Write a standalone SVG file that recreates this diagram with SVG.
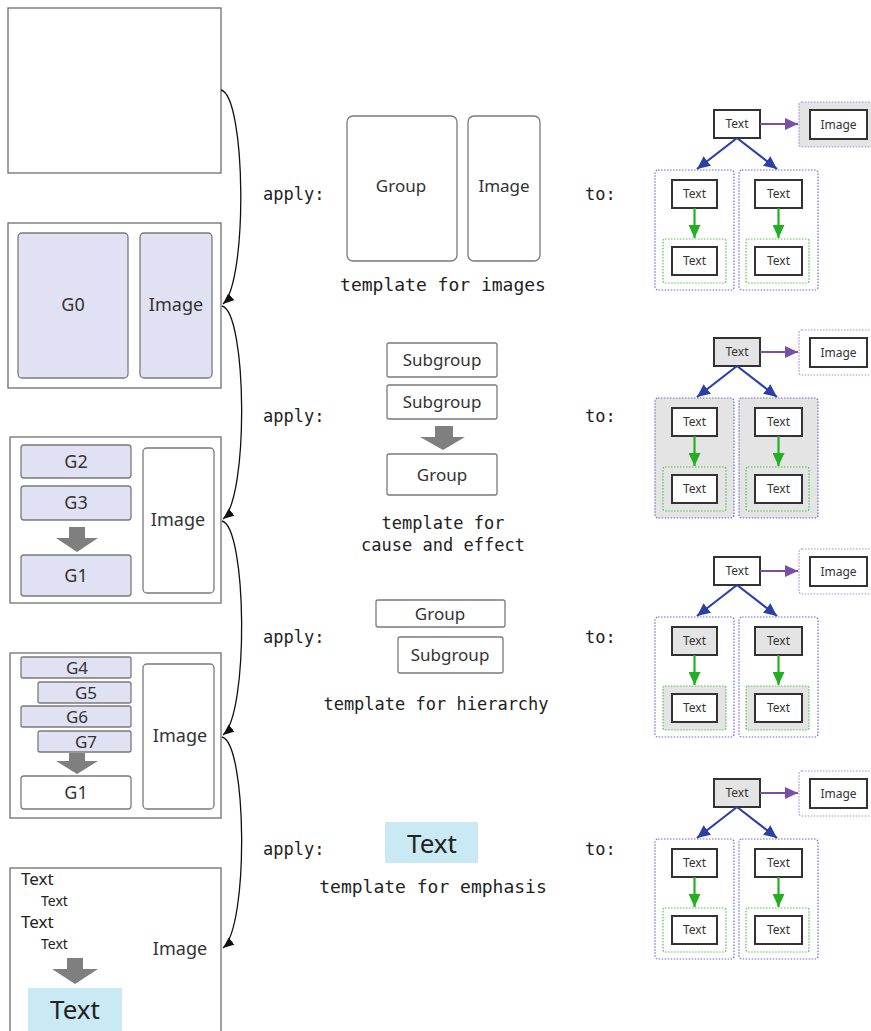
<svg xmlns="http://www.w3.org/2000/svg" width="871" height="1031" viewBox="0 0 871 1031">
<defs>
<style>
.panel{fill:#fff;stroke:#6e6e6e;stroke-width:1.3}
.lav{fill:#e1e1f4;stroke:#7a7a7a;stroke-width:1.3}
.wbox{fill:#fff;stroke:#7a7a7a;stroke-width:1.3}
.lbl{font-family:"Noto Sans",sans-serif;font-size:17px;fill:#333;text-anchor:middle}
.lbl18{font-family:"Noto Sans",sans-serif;font-size:18px;fill:#333;text-anchor:middle}
.mono{font-family:"DejaVu Sans Mono",monospace;font-size:17px;fill:#222}
.monoc{font-family:"DejaVu Sans Mono",monospace;font-size:17px;fill:#222;text-anchor:middle}
.monoc18{font-family:"DejaVu Sans Mono",monospace;font-size:18px;fill:#222;text-anchor:middle}
.garrow{fill:#7f7f7f}
.gn{fill:#fff;stroke:#333;stroke-width:2}
.gng{fill:#e4e4e4;stroke:#333;stroke-width:2}
.gt{font-family:"Noto Sans",sans-serif;font-size:12px;fill:#333;text-anchor:middle}
.cb{fill:none;stroke:#6a6ad0;stroke-width:1.2;stroke-dasharray:1.5 1.5}
.cbg{fill:#e4e4e4;stroke:#6a6ad0;stroke-width:1.2;stroke-dasharray:1.5 1.5}
.cg{fill:none;stroke:#48c848;stroke-width:1.2;stroke-dasharray:1.5 1.5}
.cgg{fill:#e4e4e4;stroke:#48c848;stroke-width:1.2;stroke-dasharray:1.5 1.5}
.cp{fill:none;stroke:#a68ad8;stroke-width:1.2;stroke-dasharray:1.5 1.5}
.cpg{fill:#e4e4e4;stroke:#a68ad8;stroke-width:1.2;stroke-dasharray:1.5 1.5}
.eb{stroke:#2b3fa8;stroke-width:2.2;fill:none}
.eg{stroke:#22b022;stroke-width:2.2;fill:none}
.ep{stroke:#7b4fa8;stroke-width:2.2;fill:none}
.curve{stroke:#111;stroke-width:1.3;fill:none}
.t17{font-family:"Noto Sans",sans-serif;font-size:17px;fill:#222}
.t14{font-family:"Noto Sans",sans-serif;font-size:14px;fill:#222}
.big{font-family:"Noto Sans",sans-serif;font-size:26px;fill:#222;text-anchor:middle}
</style>
<marker id="mb" markerUnits="userSpaceOnUse" markerWidth="14" markerHeight="12" refX="13" refY="6" orient="auto"><path d="M0,0 L13,6 L0,12 z" fill="#2b3fa8"/></marker>
<marker id="mg" markerUnits="userSpaceOnUse" markerWidth="14" markerHeight="12" refX="13" refY="6" orient="auto"><path d="M0,0 L13,6 L0,12 z" fill="#22b022"/></marker>
<marker id="mp" markerUnits="userSpaceOnUse" markerWidth="14" markerHeight="12" refX="13" refY="6" orient="auto"><path d="M0,0 L13,6 L0,12 z" fill="#7b4fa8"/></marker>
<marker id="mk" markerUnits="userSpaceOnUse" markerWidth="12" markerHeight="10" refX="11" refY="4.5" orient="auto"><path d="M0,0 L11,4.5 L0,9 z" fill="#111"/></marker>
</defs>
<rect width="871" height="1031" fill="#fff"/>

<!-- Left panels -->
<g id="panel1"><rect class="panel" x="8" y="8" width="213" height="165"/></g>
<g id="panel2">
<rect class="panel" x="8" y="223" width="213" height="165"/>
<rect class="lav" x="18" y="233" width="110" height="145" rx="4"/>
<rect class="lav" x="140" y="233" width="72" height="145" rx="4"/>
<text class="lbl18" x="73" y="311">G0</text>
<text class="lbl18" x="176" y="311">Image</text>
</g>
<g id="panel3">
<rect class="panel" x="10" y="437" width="211" height="166"/>
<rect class="lav" x="21" y="445" width="110" height="33" rx="3"/>
<rect class="lav" x="21" y="486" width="110" height="34" rx="3"/>
<rect class="lav" x="21" y="555" width="110" height="41" rx="3"/>
<rect class="wbox" x="143" y="448" width="71" height="145" rx="4"/>
<polygon class="garrow" points="69,527 85,527 85,538 98,538 77,552 56,538 69,538"/>
<text class="lbl18" x="76" y="468">G2</text>
<text class="lbl18" x="76" y="509">G3</text>
<text class="lbl18" x="76" y="582">G1</text>
<text class="lbl18" x="178" y="526">Image</text>
</g>
<g id="panel4">
<rect class="panel" x="10" y="653" width="211" height="165"/>
<rect class="lav" x="21" y="657" width="110" height="21" rx="2"/>
<rect class="lav" x="38" y="682" width="93" height="21" rx="2"/>
<rect class="lav" x="21" y="706" width="110" height="21" rx="2"/>
<rect class="lav" x="38" y="731" width="93" height="21" rx="2"/>
<rect class="wbox" x="21" y="776" width="110" height="33" rx="3"/>
<rect class="wbox" x="143" y="664" width="71" height="145" rx="4"/>
<polygon class="garrow" points="69,753 85,753 85,761 98,761 77,774 56,761 69,761"/>
<text class="lbl" x="77" y="674">G4</text>
<text class="lbl" x="86" y="699">G5</text>
<text class="lbl" x="77" y="723">G6</text>
<text class="lbl" x="86" y="748">G7</text>
<text class="lbl18" x="76" y="799">G1</text>
<text class="lbl18" x="180" y="742">Image</text>
</g>
<g id="panel5">
<rect class="panel" x="10" y="868" width="211" height="180"/>
<text class="t17" x="21" y="885">Text</text>
<text class="t14" x="41" y="906">Text</text>
<text class="t17" x="21" y="928">Text</text>
<text class="t14" x="41" y="949">Text</text>
<text class="lbl18" x="180" y="955">Image</text>
<polygon class="garrow" points="67,958 83,958 83,969 98,969 75,984 52,969 67,969"/>
<rect x="28" y="988" width="94" height="50" fill="#c9e9f5"/>
<text class="big" x="75" y="1019">Text</text>
</g>

<!-- Middle templates -->
<g id="tmpl-images">
<text class="mono" x="263" y="200">apply:</text>
<rect class="wbox" x="347" y="116" width="110" height="145" rx="6"/>
<rect class="wbox" x="468" y="116" width="72" height="145" rx="6"/>
<text class="lbl" x="401" y="192">Group</text>
<text class="lbl" x="504" y="192">Image</text>
<text class="monoc18" x="443" y="291">template for images</text>
<text class="mono" x="585" y="200">to:</text>
</g>
<g id="tmpl-cause">
<text class="mono" x="263" y="422">apply:</text>
<rect class="wbox" x="387" y="343" width="110" height="34" rx="2"/>
<rect class="wbox" x="387" y="385" width="110" height="34" rx="2"/>
<polygon class="garrow" points="435,426 453,426 453,437 465,437 443,450 420,437 435,437"/>
<rect class="wbox" x="387" y="454" width="110" height="41" rx="2"/>
<text class="lbl" x="442" y="366">Subgroup</text>
<text class="lbl" x="442" y="408">Subgroup</text>
<text class="lbl" x="442" y="481">Group</text>
<text class="monoc" x="443" y="529">template for</text>
<text class="monoc" x="443" y="551">cause and effect</text>
<text class="mono" x="585" y="422">to:</text>
</g>
<g id="tmpl-hierarchy">
<text class="mono" x="263" y="643">apply:</text>
<rect class="wbox" x="376" y="600" width="129" height="27" rx="2"/>
<rect class="wbox" x="398" y="637" width="105" height="36" rx="2"/>
<text class="lbl" x="440" y="620">Group</text>
<text class="lbl" x="450" y="661">Subgroup</text>
<text class="monoc" x="436" y="710">template for hierarchy</text>
<text class="mono" x="585" y="643">to:</text>
</g>
<g id="tmpl-emphasis">
<text class="mono" x="263" y="855">apply:</text>
<rect x="385" y="822" width="93" height="41" fill="#c9e9f5"/>
<text class="big" x="432" y="853">Text</text>
<text class="monoc18" x="433" y="893">template for emphasis</text>
<text class="mono" x="585" y="855">to:</text>
</g>

<!-- Right graphs -->
<g id="graph1">
<rect class="cpg" x="799" y="102" width="80" height="45" rx="3"/>
<rect class="gn" x="810" y="110" width="57" height="29"/>
<text class="gt" x="838.5" y="129">Image</text>
<rect class="gn" x="714" y="110" width="46" height="28"/>
<text class="gt" x="737" y="128">Text</text>
<rect class="cb" x="655" y="170" width="79" height="120" rx="3"/>
<rect class="cb" x="739" y="170" width="79" height="120" rx="3"/>
<rect class="gn" x="672" y="180" width="45" height="28"/>
<rect class="gn" x="755" y="180" width="47" height="28"/>
<text class="gt" x="694.5" y="198">Text</text>
<text class="gt" x="778.5" y="198">Text</text>
<rect class="cg" x="663" y="239" width="63" height="44" rx="2"/>
<rect class="cg" x="746" y="239" width="63" height="44" rx="2"/>
<rect class="gn" x="672" y="247" width="45" height="28"/>
<rect class="gn" x="755" y="247" width="47" height="28"/>
<text class="gt" x="694.5" y="265">Text</text>
<text class="gt" x="778.5" y="265">Text</text>
</g>
<g id="graph2" transform="translate(0,228)">
<rect class="cp" x="799" y="102" width="80" height="45" rx="3"/>
<rect class="gn" x="810" y="110" width="57" height="29"/>
<text class="gt" x="838.5" y="129">Image</text>
<rect class="gng" x="714" y="110" width="46" height="28"/>
<text class="gt" x="737" y="128">Text</text>
<rect class="cbg" x="655" y="170" width="79" height="120" rx="3"/>
<rect class="cbg" x="739" y="170" width="79" height="120" rx="3"/>
<rect class="gn" x="672" y="180" width="45" height="28"/>
<rect class="gn" x="755" y="180" width="47" height="28"/>
<text class="gt" x="694.5" y="198">Text</text>
<text class="gt" x="778.5" y="198">Text</text>
<rect class="cg" x="663" y="239" width="63" height="44" rx="2"/>
<rect class="cg" x="746" y="239" width="63" height="44" rx="2"/>
<rect class="gn" x="672" y="247" width="45" height="28"/>
<rect class="gn" x="755" y="247" width="47" height="28"/>
<text class="gt" x="694.5" y="265">Text</text>
<text class="gt" x="778.5" y="265">Text</text>
</g>
<g id="graph3" transform="translate(0,447)">
<rect class="cp" x="799" y="102" width="80" height="45" rx="3"/>
<rect class="gn" x="810" y="110" width="57" height="29"/>
<text class="gt" x="838.5" y="129">Image</text>
<rect class="gn" x="714" y="110" width="46" height="28"/>
<text class="gt" x="737" y="128">Text</text>
<rect class="cb" x="655" y="170" width="79" height="120" rx="3"/>
<rect class="cb" x="739" y="170" width="79" height="120" rx="3"/>
<rect class="gng" x="672" y="180" width="45" height="28"/>
<rect class="gng" x="755" y="180" width="47" height="28"/>
<text class="gt" x="694.5" y="198">Text</text>
<text class="gt" x="778.5" y="198">Text</text>
<rect class="cgg" x="663" y="239" width="63" height="44" rx="2"/>
<rect class="cgg" x="746" y="239" width="63" height="44" rx="2"/>
<rect class="gn" x="672" y="247" width="45" height="28"/>
<rect class="gn" x="755" y="247" width="47" height="28"/>
<text class="gt" x="694.5" y="265">Text</text>
<text class="gt" x="778.5" y="265">Text</text>
</g>
<g id="graph4" transform="translate(0,669)">
<rect class="cp" x="799" y="102" width="80" height="45" rx="3"/>
<rect class="gn" x="810" y="110" width="57" height="29"/>
<text class="gt" x="838.5" y="129">Image</text>
<rect class="gng" x="714" y="110" width="46" height="28"/>
<text class="gt" x="737" y="128">Text</text>
<rect class="cb" x="655" y="170" width="79" height="120" rx="3"/>
<rect class="cb" x="739" y="170" width="79" height="120" rx="3"/>
<rect class="gn" x="672" y="180" width="45" height="28"/>
<rect class="gn" x="755" y="180" width="47" height="28"/>
<text class="gt" x="694.5" y="198">Text</text>
<text class="gt" x="778.5" y="198">Text</text>
<rect class="cg" x="663" y="239" width="63" height="44" rx="2"/>
<rect class="cg" x="746" y="239" width="63" height="44" rx="2"/>
<rect class="gn" x="672" y="247" width="45" height="28"/>
<rect class="gn" x="755" y="247" width="47" height="28"/>
<text class="gt" x="694.5" y="265">Text</text>
<text class="gt" x="778.5" y="265">Text</text>
</g>

<!-- Connectors -->
<g id="connectors">
<path class="curve" marker-end="url(#mk)" d="M221,90 C246,96 248,282 223,304"/>
<path class="curve" marker-end="url(#mk)" d="M222,306 C247,312 249,498 223,519"/>
<path class="curve" marker-end="url(#mk)" d="M222,521 C247,527 249,714 223,735"/>
<path class="curve" marker-end="url(#mk)" d="M222,737 C247,743 249,927 223,948"/>
<g id="edges1">
<line class="ep" marker-end="url(#mp)" x1="760" y1="124" x2="798" y2="124"/>
<line class="eb" marker-end="url(#mb)" x1="737" y1="138" x2="697" y2="169"/>
<line class="eb" marker-end="url(#mb)" x1="737" y1="138" x2="777" y2="169"/>
<line class="eg" marker-end="url(#mg)" x1="694.5" y1="208" x2="694.5" y2="238"/>
<line class="eg" marker-end="url(#mg)" x1="778.5" y1="208" x2="778.5" y2="238"/>
</g>
<g id="edges2" transform="translate(0,228)">
<line class="ep" marker-end="url(#mp)" x1="760" y1="124" x2="798" y2="124"/>
<line class="eb" marker-end="url(#mb)" x1="737" y1="138" x2="697" y2="169"/>
<line class="eb" marker-end="url(#mb)" x1="737" y1="138" x2="777" y2="169"/>
<line class="eg" marker-end="url(#mg)" x1="694.5" y1="208" x2="694.5" y2="238"/>
<line class="eg" marker-end="url(#mg)" x1="778.5" y1="208" x2="778.5" y2="238"/>
</g>
<g id="edges3" transform="translate(0,447)">
<line class="ep" marker-end="url(#mp)" x1="760" y1="124" x2="798" y2="124"/>
<line class="eb" marker-end="url(#mb)" x1="737" y1="138" x2="697" y2="169"/>
<line class="eb" marker-end="url(#mb)" x1="737" y1="138" x2="777" y2="169"/>
<line class="eg" marker-end="url(#mg)" x1="694.5" y1="208" x2="694.5" y2="238"/>
<line class="eg" marker-end="url(#mg)" x1="778.5" y1="208" x2="778.5" y2="238"/>
</g>
<g id="edges4" transform="translate(0,669)">
<line class="ep" marker-end="url(#mp)" x1="760" y1="124" x2="798" y2="124"/>
<line class="eb" marker-end="url(#mb)" x1="737" y1="138" x2="697" y2="169"/>
<line class="eb" marker-end="url(#mb)" x1="737" y1="138" x2="777" y2="169"/>
<line class="eg" marker-end="url(#mg)" x1="694.5" y1="208" x2="694.5" y2="238"/>
<line class="eg" marker-end="url(#mg)" x1="778.5" y1="208" x2="778.5" y2="238"/>
</g>
</g>
</svg>
